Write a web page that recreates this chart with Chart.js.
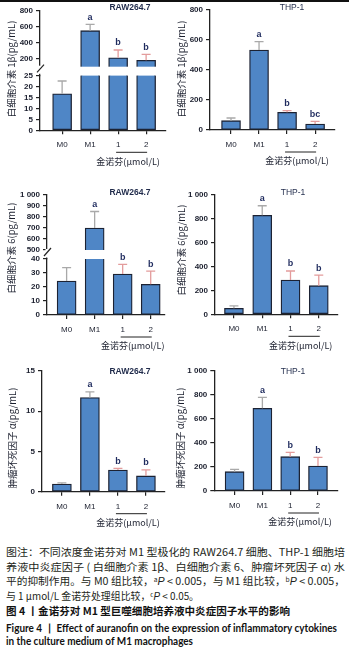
<!DOCTYPE html>
<html>
<head>
<meta charset="utf-8">
<script src="https://cdn.jsdelivr.net/npm/chart.js@4.4.1/dist/chart.umd.min.js"></script>
<style>
  html, body { margin: 0; padding: 0; background: #fff; }
  body { position: relative; width: 349px; height: 655px; overflow: hidden; }
  #rule { position: absolute; left: 0; top: 0; width: 349px; height: 2px; background: #111; }
  canvas { position: absolute; }
  .cap { position: absolute; left: 6px; white-space: nowrap; transform-origin: 0 0; line-height: 12px;
         font-size: 10.4px; color: #231f20; font-family: "Noto Sans CJK SC", sans-serif; }
  .cap sup { font-size: 6.5px; vertical-align: 3px; line-height: 0; }
  .cap i { font-family: "Liberation Sans", sans-serif; }
  .strong { font-weight: bold; color: #111; }
  .en { font-family: Lato, "Liberation Sans", sans-serif; font-weight: bold; color: #111; }
</style>
</head>
<body>
<div id="rule"></div>

<div class="cap" data-w="339" style="top:546px">图注：不同浓度金诺芬对 M1 型极化的 RAW264.7 细胞、THP-1 细胞培</div>
<div class="cap" data-w="339" style="top:561px">养液中炎症因子 ( 白细胞介素 1β、白细胞介素 6、肿瘤坏死因子 α) 水</div>
<div class="cap" data-w="339" style="top:575px">平的抑制作用。与 M0 组比较，<sup>a</sup><i>P</i> &lt; 0.005，与 M1 组比较，<sup>b</sup><i>P</i> &lt; 0.005，</div>
<div class="cap" data-w="193" style="top:590px">与 1 μmol/L 金诺芬处理组比较，<sup>c</sup><i>P</i> &lt; 0.05。</div>
<div class="cap strong" data-w="284" style="top:605px">图 4 丨金诺芬对 M1 型巨噬细胞培养液中炎症因子水平的影响</div>
<div class="cap en" data-w="331" style="top:622px">Figure 4 丨 Effect of auranofin on the expression of inflammatory cytokines</div>
<div class="cap en" data-w="187" style="top:635px">in the culture medium of M1 macrophages</div>

<script>
// groups on the x axis
const groups = ['M0', 'M1', '1', '2'];

// 白细胞介素 1β
const il1bRawMean = [16.6, 550, 212, 180];
const il1bRawErr = [22.4, 630, 309, 255];
const il1bRawSig = ['', 'a', 'b', 'b'];
const il1bThpMean = [62, 533, 118, 40];
const il1bThpErr = [80, 589, 129, 58];
const il1bThpSig = ['', 'a', 'b', 'bc'];

// 白细胞介素 6
const il6RawMean = [24.3, 700, 29.3, 21.9];
const il6RawErr = [33.8, 850, 36.2, 31.4];
const il6RawSig = ['', 'a', 'b', 'b'];
const il6ThpMean = [50, 830, 287, 240];
const il6ThpErr = [70, 910, 363, 329];
const il6ThpSig = ['', 'a', 'b', 'b'];

// 肿瘤坏死因子 α
const tnfRawMean = [0.96, 11.7, 2.7, 1.96];
const tnfRawErr = [1.1, 12.4, 2.9, 2.7];
const tnfRawSig = ['', 'a', 'b', 'b'];
const tnfThpMean = [161, 689, 286, 208];
const tnfThpErr = [181, 781, 322, 281];
const tnfThpSig = ['', 'a', 'b', 'b'];

// tick values
const il1bRawTicksLow = [0, 5, 10, 15, 20, 25];
const il1bRawTicksHigh = [200, 400, 600, 800];
const il1bThpTicks = [0, 200, 400, 600, 800];
const il6RawTicksLow = [0, 10, 20, 30, 40];
const il6RawTicksHigh = [500, 600, 700, 800, 900, 1000];
const il6ThpTicks = [0, 200, 400, 600, 800, 1000];
const tnfRawTicks = [0, 5, 10, 15];
const tnfThpTicks = [0, 200, 400, 600, 800, 1000];

const barFill = '#4f86c6';
const barEdge = '#1c2233';
const axisColor = '#222';
const ink = '#1b1f2e';
const letterColor = '#1f2b5e';
const errColors = ['#a9a9a9', '#a9a9a9', '#e39c9c', '#e39c9c'];
const cjk = '"Noto Sans CJK SC", sans-serif';

Chart.defaults.font.family = '"Liberation Sans", Arial, sans-serif';

const panels = [
  { id: 'c1', left: 0, top: 0, w: 175, h: 172, area: { l: 40, t: 10.7, r: 166, b: 130.3 }, xMin: -0.79, xMax: 3.71,
    mean: il1bRawMean, err: il1bRawErr, sig: il1bRawSig, yTicks: il1bRawTicksLow, yMin: 0, yMax: 25,
    high: { min: -7.5, max: 800, cut: 100, ticks: il1bRawTicksHigh }, split: 75.3,
    title: 'RAW264.7', titleBold: true, titleX: 130, titleY: 8,
    yTitle: '白细胞介素 1β(pg/mL)', yTitleX: 11, yTitleY: 69 },
  { id: 'c2', left: 175, top: 0, w: 174, h: 172, area: { l: 35, t: 10, r: 160, b: 130 }, xMin: -0.75, xMax: 3.71,
    mean: il1bThpMean, err: il1bThpErr, sig: il1bThpSig, yTicks: il1bThpTicks, yMin: 0, yMax: 800,
    title: 'THP-1', titleBold: false, titleX: 117, titleY: 8,
    yTitle: '白细胞介素 1β(pg/mL)', yTitleX: 6, yTitleY: 69 },
  { id: 'c3', left: 0, top: 172, w: 175, h: 180, area: { l: 47, t: 23, r: 165, b: 143 }, xMin: -0.7, xMax: 3.51,
    mean: il6RawMean, err: il6RawErr, sig: il6RawSig, yTicks: il6RawTicksLow, yMin: 0, yMax: 40,
    high: { min: 418.2, max: 1000, cut: 500, ticks: il6RawTicksHigh }, split: 87,
    title: 'RAW264.7', titleBold: true, titleX: 130, titleY: 21,
    yTitle: '白细胞介素 6(pg/mL)', yTitleX: 11, yTitleY: 76 },
  { id: 'c4', left: 175, top: 172, w: 174, h: 180, area: { l: 40, t: 23, r: 163, b: 142.3 }, xMin: -0.67, xMax: 3.68,
    mean: il6ThpMean, err: il6ThpErr, sig: il6ThpSig, yTicks: il6ThpTicks, yMin: 0, yMax: 1000,
    title: 'THP-1', titleBold: false, titleX: 118, titleY: 21,
    yTitle: '白细胞介素 6(pg/mL)', yTitleX: 6, yTitleY: 78 },
  { id: 'c5', left: 0, top: 352, w: 175, h: 180, area: { l: 42, t: 19, r: 165, b: 139.7 }, xMin: -0.71, xMax: 3.68,
    mean: tnfRawMean, err: tnfRawErr, sig: tnfRawSig, yTicks: tnfRawTicks, yMin: 0, yMax: 15,
    title: 'RAW264.7', titleBold: true, titleX: 130, titleY: 19.7,
    yTitle: '肿瘤坏死因子 α(pg/mL)', yTitleX: 12, yTitleY: 86 },
  { id: 'c6', left: 175, top: 352, w: 174, h: 180, area: { l: 39.3, t: 19, r: 163, b: 139 }, xMin: -0.73, xMax: 3.72,
    mean: tnfThpMean, err: tnfThpErr, sig: tnfThpSig, yTicks: tnfThpTicks, yMin: 0, yMax: 1000,
    title: 'THP-1', titleBold: false, titleX: 118, titleY: 19.7,
    yTitle: '肿瘤坏死因子 α(pg/mL)', yTitleX: 5, yTitleY: 86 }
];

// "1000" -> "1 000"
function fmtTick(v) {
  return v >= 1000 ? String(v).replace(/(\d)(\d{3})$/, '$1 $2') : String(v);
}

// error bars, letters, axis break, titles
function panelExtras(p) {
  return {
    id: 'panelExtras',
    beforeDatasetDraw(chart, args) {
      // keep each dataset inside its own y segment
      const ys = chart.scales[args.meta.yAxisID];
      const a = chart.chartArea;
      chart.ctx.save();
      chart.ctx.beginPath();
      chart.ctx.rect(a.left, ys.top, a.right - a.left, ys.bottom - ys.top);
      chart.ctx.clip();
    },
    afterDatasetDraw(chart) {
      chart.ctx.restore();
    },
    afterDatasetsDraw(chart) {
      const ctx = chart.ctx, a = chart.chartArea, xs = chart.scales.x;
      const pick = v => (p.high && v > p.yMax) ? chart.scales.yHigh : chart.scales.y;

      if (p.high) {
        const hs = chart.scales.yHigh;
        const top = hs.getPixelForValue(p.high.cut), bot = hs.bottom;
        ctx.fillStyle = '#fff';
        ctx.fillRect(a.left + 1, top, a.right - a.left + 4, bot - top);
        ctx.fillRect(a.left - 1.5, top - 1, 3, bot - top - 0.5);
        ctx.strokeStyle = axisColor;
        ctx.lineWidth = 1.2;
        ctx.beginPath();
        ctx.moveTo(a.left - 3, bot - 3);
        ctx.lineTo(a.left + 4, top - 2);
        ctx.stroke();
      }

      p.mean.forEach((m, i) => {
        const px = xs.getPixelForValue(i);
        const y0 = pick(m).getPixelForValue(m);
        const y1 = pick(p.err[i]).getPixelForValue(p.err[i]);
        ctx.strokeStyle = errColors[i];
        ctx.lineWidth = 1.3;
        ctx.beginPath();
        ctx.moveTo(px, y0);
        ctx.lineTo(px, y1);
        ctx.moveTo(px - 4.5, y1);
        ctx.lineTo(px + 4.5, y1);
        ctx.stroke();
        if (p.sig[i]) {
          ctx.fillStyle = letterColor;
          ctx.font = 'bold 9px "Liberation Sans", Arial, sans-serif';
          ctx.textAlign = 'center';
          ctx.textBaseline = 'middle';
          ctx.fillText(p.sig[i], px, y1 - 7);
        }
      });
    },
    afterDraw(chart) {
      const ctx = chart.ctx, a = chart.chartArea, xs = chart.scales.x;
      const x2 = xs.getPixelForValue(2), x3 = xs.getPixelForValue(3);
      // dose bracket under 1 and 2
      ctx.strokeStyle = axisColor;
      ctx.lineWidth = 1;
      ctx.beginPath();
      ctx.moveTo(x2 - 2, a.bottom + 22);
      ctx.lineTo(x3 + 1, a.bottom + 22);
      ctx.stroke();
      ctx.fillStyle = ink;
      ctx.font = '9px ' + cjk;
      ctx.textAlign = 'center';
      ctx.textBaseline = 'middle';
      ctx.fillText('金诺芬(μmol/L)', (x2 + x3) / 2 - 4, a.bottom + 31);

      // panel title
      ctx.fillStyle = '#1f2a4a';
      ctx.font = (p.titleBold ? 'bold ' : '') + '8.5px "Liberation Sans", Arial, sans-serif';
      ctx.fillText(p.title, p.titleX, p.titleY);

      // y axis title
      ctx.save();
      ctx.translate(p.yTitleX, p.yTitleY);
      ctx.rotate(-Math.PI / 2);
      ctx.fillStyle = ink;
      ctx.font = '9.5px ' + cjk;
      ctx.fillText(p.yTitle, 0, 0);
      ctx.restore();
    }
  };
}

function makeChart(p) {
  const canvas = document.createElement('canvas');
  canvas.width = p.w;
  canvas.height = p.h;
  canvas.style.left = p.left + 'px';
  canvas.style.top = p.top + 'px';
  document.body.appendChild(canvas);

  const pts = p.mean.map((v, i) => ({ x: i, y: v }));
  const barStyle = {
    backgroundColor: barFill, borderColor: barEdge, borderWidth: 1.3,
    borderSkipped: false, barThickness: 19, grouped: false
  };
  const datasets = [Object.assign({ data: pts, yAxisID: 'y' }, barStyle)];
  if (p.high) datasets.push(Object.assign({ data: pts, yAxisID: 'yHigh' }, barStyle));

  const yAxis = ticks => ({
    type: 'linear', position: 'left', beginAtZero: false,
    afterBuildTicks: ax => { ax.ticks = ticks.map(v => ({ value: v })); },
    afterFit: ax => { ax.width = p.area.l; },
    ticks: { font: { size: 8, weight: 'bold' }, color: ink, padding: 3, autoSkip: false, callback: fmtTick },
    grid: { drawOnChartArea: false, tickLength: 4, color: axisColor, lineWidth: 1.2 },
    border: { color: axisColor, width: 1.3 }
  });

  const scales = {
    x: {
      type: 'linear', min: p.xMin, max: p.xMax, offset: false,
      afterBuildTicks: ax => { ax.ticks = groups.map((g, i) => ({ value: i })); },
      afterFit: ax => { ax.height = p.h - p.area.b; },
      ticks: { font: { size: 8 }, color: ink, padding: 6, autoSkip: false, maxRotation: 0,
               callback: v => groups[v] },
      grid: { offset: false, drawOnChartArea: false, tickLength: 4, color: axisColor, lineWidth: 1.2 },
      border: { color: axisColor, width: 1.3 }
    },
    y: Object.assign(yAxis(p.yTicks), { min: p.yMin, max: p.yMax })
  };
  if (p.high) {
    Object.assign(scales.y, { stack: 'v', stackWeight: p.area.b - p.split, weight: 1 });
    scales.yHigh = Object.assign(yAxis(p.high.ticks), {
      min: p.high.min, max: p.high.max, stack: 'v', stackWeight: p.split - p.area.t, weight: 2
    });
  }

  return new Chart(canvas, {
    type: 'bar',
    data: { datasets: datasets },
    options: {
      responsive: false,
      animation: false,
      devicePixelRatio: 1,
      events: [],
      layout: { padding: { left: 0, top: p.area.t, right: p.w - p.area.r, bottom: 0 } },
      scales: scales,
      plugins: { legend: { display: false }, tooltip: { enabled: false } }
    },
    plugins: [panelExtras(p)]
  });
}

panels.forEach(makeChart);

// stretch caption lines to the widths they have in the figure
document.querySelectorAll('.cap').forEach(el => {
  const w = el.getBoundingClientRect().width;
  el.style.transform = 'scaleX(' + (+el.dataset.w / w) + ')';
});
</script>
</body>
</html>
